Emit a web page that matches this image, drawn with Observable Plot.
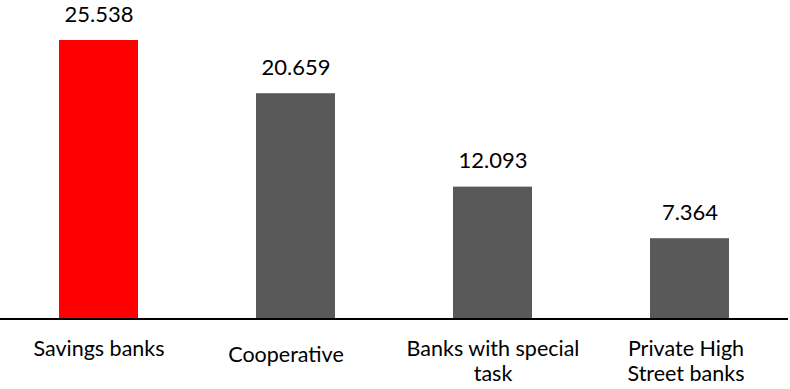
<!DOCTYPE html>
<html>
<head>
<meta charset="utf-8">
<script src="https://cdn.jsdelivr.net/npm/d3@7"></script>
<script src="https://cdn.jsdelivr.net/npm/@observablehq/plot@0.6"></script>
<style>
  html, body { margin: 0; padding: 0; background: #fff; }
  #chart svg { display: block; }
</style>
</head>
<body>
<div id="chart"></div>
<script>
// Data
const categories = ["Savings banks", "Cooperative", "Banks with special task", "Private High Street banks"];
const tickLabels = ["Savings banks", "Cooperative", "Banks with special\ntask", "Private High\nStreet banks"];
const values = [25.538, 20.659, 12.093, 7.364];
const valueLabels = ["25.538", "20.659", "12.093", "7.364"];

// Layout tweaks (not data)
const labelDx = {"Cooperative": -10, "Private High Street banks": -4};
const labelDy = {"Cooperative": 6};

const rows = categories.map((c, i) => ({
  cat: c, value: values[i], label: valueLabels[i], tick: tickLabels[i],
  highlight: i === 0
}));

const font = "Lato, 'Open Sans', sans-serif";

const marks = [
  Plot.barY(rows, {x: "cat", y: "value", fill: d => d.highlight ? "#FF0000" : "#595959"}),
  Plot.ruleY([0], {stroke: "#000", strokeWidth: 2}),
  Plot.text(rows, {x: "cat", y: "value", text: "label", lineAnchor: "bottom", dy: -19,
    fontSize: 22, fill: "#000", fontFamily: font})
];
rows.forEach(r => {
  marks.push(Plot.text([r], {x: "cat", y: () => 0, text: "tick", lineAnchor: "top",
    dy: 20 + (labelDy[r.cat] || 0), dx: labelDx[r.cat] || 0,
    lineHeight: 1.14, fontSize: 21.5, fill: "#000", fontFamily: font}));
});

const chart = Plot.plot({
  width: 790,
  height: 389,
  marginLeft: 0,
  marginRight: 2,
  marginTop: 0,
  marginBottom: 70.5,
  style: {fontFamily: font, background: "#fff"},
  x: {domain: categories, paddingInner: 0.6, paddingOuter: 0.3, axis: null},
  y: {domain: [0, 318.5 / 10.905], axis: null},
  marks
});
document.getElementById("chart").appendChild(chart);
</script>
</body>
</html>
